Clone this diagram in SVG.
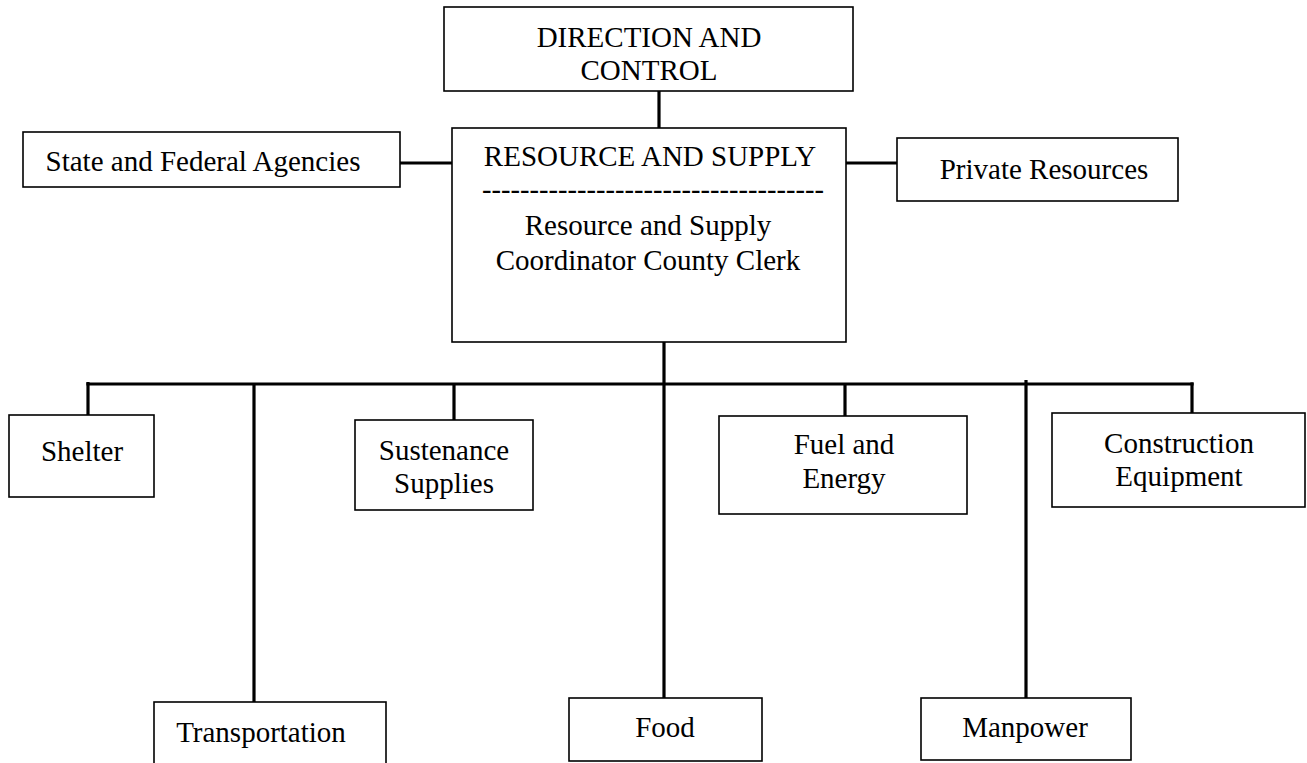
<svg xmlns="http://www.w3.org/2000/svg" width="1307" height="763" viewBox="0 0 1307 763">
  <style>
    .box { fill: #ffffff; stroke: #000000; stroke-width: 1.6; }
    .lbl { font-family: "Liberation Serif", "Times New Roman", serif; font-size: 29px; fill: #000000; text-anchor: middle; }
    .link { stroke: #000000; stroke-width: 3.2; fill: none; stroke-linecap: butt; }
  </style>
  <rect width="1307" height="763" fill="#ffffff"/>

  <!-- connectors -->
  <g id="connectors">
    <line class="link" x1="659" y1="91" x2="659" y2="128"/>
    <line class="link" x1="400" y1="163" x2="452" y2="163"/>
    <line class="link" x1="846" y1="163" x2="897" y2="163"/>
    <!-- trunk to bus and straight down to Food -->
    <line class="link" x1="664" y1="342" x2="664" y2="698"/>
    <!-- horizontal bus -->
    <line class="link" x1="86.4" y1="384" x2="1193.6" y2="384"/>
    <line class="link" x1="88" y1="382" x2="88" y2="415"/>
    <line class="link" x1="254" y1="384" x2="254" y2="702"/>
    <line class="link" x1="454" y1="384" x2="454" y2="420"/>
    <line class="link" x1="845" y1="384" x2="845" y2="416"/>
    <line class="link" x1="1026" y1="380" x2="1026" y2="698"/>
    <line class="link" x1="1192" y1="382.4" x2="1192" y2="413"/>
  </g>

  <g id="direction">
    <rect class="box" x="444" y="7" width="409" height="84"/>
    <text class="lbl" x="649" y="47">DIRECTION AND</text>
    <text class="lbl" x="649" y="80">CONTROL</text>
  </g>

  <g id="resource">
    <rect class="box" x="452" y="128" width="394" height="214"/>
    <text class="lbl" x="650" y="166">RESOURCE AND SUPPLY</text>
    <text class="lbl" x="653" y="199" textLength="342" lengthAdjust="spacingAndGlyphs">------------------------------------</text>
    <text class="lbl" x="648" y="235">Resource and Supply</text>
    <text class="lbl" x="648" y="270">Coordinator County Clerk</text>
  </g>

  <g id="state-federal">
    <rect class="box" x="23" y="132" width="377" height="55"/>
    <text class="lbl" x="203" y="171">State and Federal Agencies</text>
  </g>

  <g id="private">
    <rect class="box" x="897" y="138" width="281" height="63"/>
    <text class="lbl" x="1044" y="179">Private Resources</text>
  </g>

  <g id="shelter">
    <rect class="box" x="9" y="415" width="145" height="82"/>
    <text class="lbl" x="82" y="461">Shelter</text>
  </g>

  <g id="transportation">
    <rect class="box" x="154" y="702" width="232" height="70"/>
    <text class="lbl" x="261" y="742">Transportation</text>
  </g>

  <g id="sustenance">
    <rect class="box" x="355" y="420" width="178" height="90"/>
    <text class="lbl" x="444" y="460">Sustenance</text>
    <text class="lbl" x="444" y="493">Supplies</text>
  </g>

  <g id="food">
    <rect class="box" x="569" y="698" width="193" height="63"/>
    <text class="lbl" x="665" y="737">Food</text>
  </g>

  <g id="fuel">
    <rect class="box" x="719" y="416" width="248" height="98"/>
    <text class="lbl" x="844" y="454">Fuel and</text>
    <text class="lbl" x="844" y="488">Energy</text>
  </g>

  <g id="manpower">
    <rect class="box" x="921" y="698" width="210" height="62"/>
    <text class="lbl" x="1025" y="737">Manpower</text>
  </g>

  <g id="construction">
    <rect class="box" x="1052" y="413" width="253" height="94"/>
    <text class="lbl" x="1179" y="453">Construction</text>
    <text class="lbl" x="1179" y="486">Equipment</text>
  </g>
</svg>
